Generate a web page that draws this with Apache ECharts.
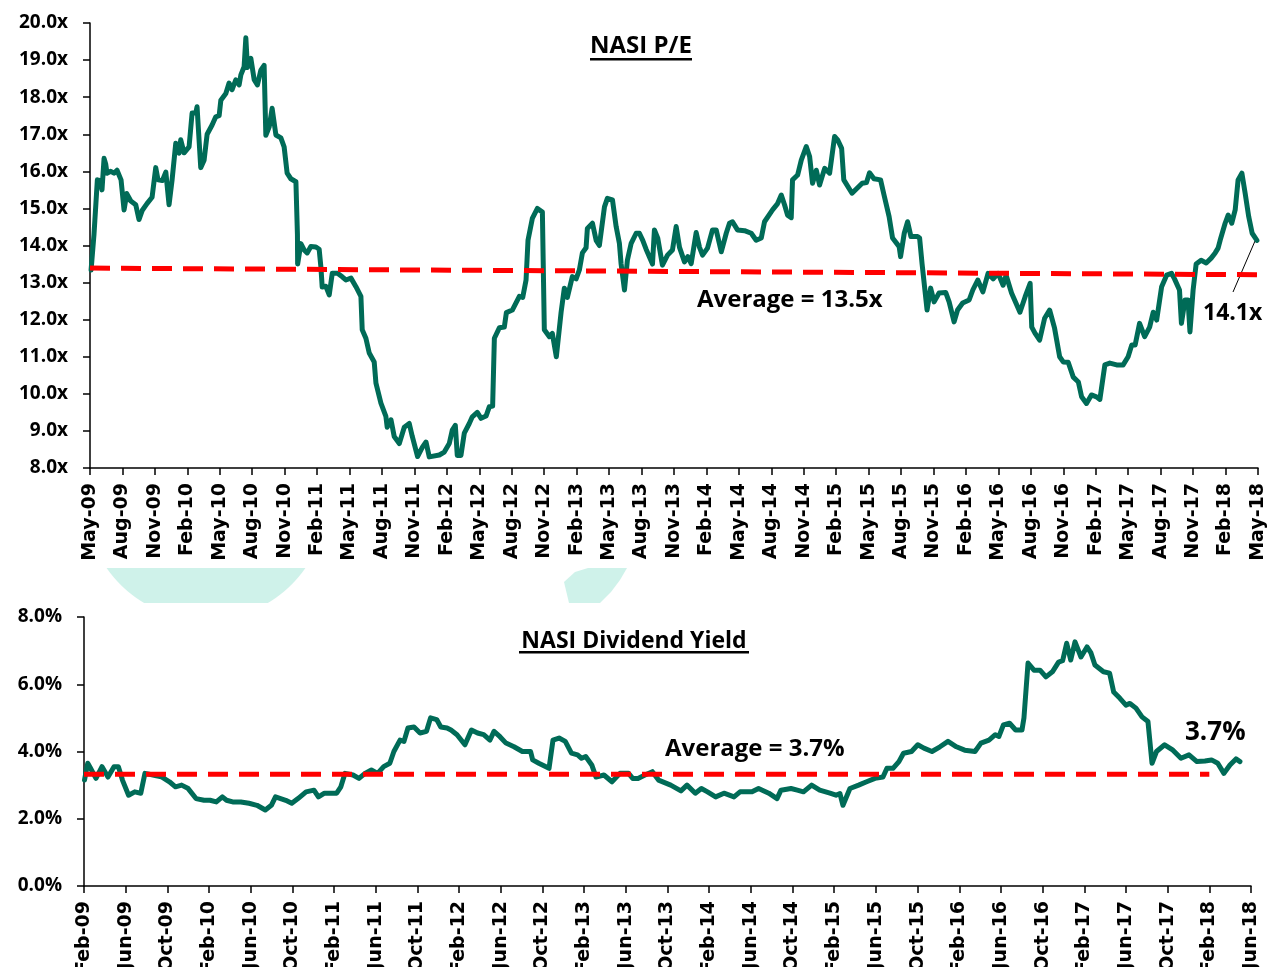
<!DOCTYPE html>
<html>
<head>
<meta charset="utf-8">
<script src="https://cdn.jsdelivr.net/npm/echarts@6/dist/echarts.min.js"></script>
<style>
  html, body { margin: 0; padding: 0; background: #fff; }
  #main { width: 1269px; height: 967px; }
</style>
</head>
<body>
<div id="main"></div>
<script>
// tick labels
var peTicks = ['May-09','Aug-09','Nov-09','Feb-10','May-10','Aug-10','Nov-10','Feb-11','May-11','Aug-11','Nov-11','Feb-12','May-12','Aug-12','Nov-12','Feb-13','May-13','Aug-13','Nov-13','Feb-14','May-14','Aug-14','Nov-14','Feb-15','May-15','Aug-15','Nov-15','Feb-16','May-16','Aug-16','Nov-16','Feb-17','May-17','Aug-17','Nov-17','Feb-18','May-18'];
var dyTicks = ['Feb-09','Jun-09','Oct-09','Feb-10','Jun-10','Oct-10','Feb-11','Jun-11','Oct-11','Feb-12','Jun-12','Oct-12','Feb-13','Jun-13','Oct-13','Feb-14','Jun-14','Oct-14','Feb-15','Jun-15','Oct-15','Feb-16','Jun-16','Oct-16','Feb-17','Jun-17','Oct-17','Feb-18','Jun-18'];

// NASI P/E : months since May-09, value (x)
var peMonths = [0.1,0.37,0.68,0.99,1.11,1.3,1.45,1.57,1.92,2.22,2.5,2.87,3.15,3.4,3.77,4.23,4.53,4.84,5.27,5.74,6.08,6.29,6.69,7.01,7.31,7.59,7.93,8.24,8.39,8.7,9.16,9.44,9.78,9.9,10.24,10.55,10.83,11.29,11.63,11.94,12.1,12.56,12.86,13.14,13.48,13.79,13.95,14.25,14.41,14.56,14.87,15.18,15.48,15.8,16.1,16.26,16.57,16.84,17.19,17.65,17.95,18.23,18.57,19.04,19.18,19.2,19.5,19.8,20.08,20.42,20.89,21.19,21.35,21.47,21.81,22.12,22.4,22.89,23.35,23.66,24.13,24.59,25.05,25.17,25.51,25.82,26.28,26.44,26.9,27.36,27.48,27.83,28.13,28.6,29.06,29.52,29.8,30.29,30.45,30.75,31.07,31.37,32.3,32.76,33.22,33.5,33.78,33.96,34.3,34.61,35.07,35.35,35.81,36.16,36.62,36.92,37.23,37.39,37.85,38.31,38.5,39.05,39.7,40.01,40.32,40.5,40.9,41.37,41.83,42.01,42.48,42.75,43.12,43.56,43.86,44.14,44.6,44.95,45.25,45.53,45.87,45.99,46.46,46.8,47.1,47.57,47.84,48.31,48.65,48.95,49.11,49.42,49.69,50.04,50.5,50.8,51.11,51.42,52.01,52.19,52.5,52.93,53.4,53.86,54.2,54.51,54.97,55.28,55.59,56.05,56.36,56.64,57.1,57.56,57.9,58.37,58.83,59.13,59.41,59.87,60.52,61.14,61.6,62.07,62.37,63.11,63.58,63.92,64.22,64.5,64.84,64.96,65.43,65.77,66.23,66.54,66.81,67.16,67.46,67.93,68.39,68.85,69.13,69.5,69.7,70.46,71.4,71.8,72.08,72.49,73.1,73.42,73.89,74.21,74.82,74.95,75.29,75.6,75.91,76.52,76.71,76.94,77.4,77.73,78.05,78.51,79.13,79.44,79.9,80.22,80.69,81.29,81.63,82.09,82.56,83.04,83.51,83.97,84.43,84.71,85.21,85.99,86.47,86.93,87.08,87.39,87.81,88.27,88.73,89.19,89.66,89.99,90.45,90.92,91.39,91.69,92.14,92.6,93.06,93.38,93.84,94.3,94.93,95.53,95.99,96.33,96.64,97.05,97.52,97.98,98.31,98.63,99.09,99.55,100.0,100.28,100.74,100.92,101.25,101.53,101.71,102.0,102.28,102.74,103.21,103.67,104.04,104.31,104.5,104.96,105.24,105.57,105.89,106.16,106.51,106.81,107.14,107.46,107.9];
var peValues = [13.34,14.3,15.77,15.75,15.5,16.35,16.2,15.95,16.0,15.95,16.03,15.77,14.96,15.4,15.2,15.1,14.7,14.95,15.13,15.3,16.1,15.77,15.75,15.98,15.1,15.77,16.76,16.49,16.85,16.5,16.66,17.57,17.57,17.74,16.1,16.3,17.0,17.25,17.47,17.5,17.92,18.1,18.38,18.2,18.47,18.33,18.6,18.82,19.6,18.8,19.05,18.47,18.33,18.73,18.86,16.97,17.2,17.7,16.98,16.9,16.66,15.95,15.8,15.72,14.3,13.5,14.05,13.88,13.8,13.97,13.96,13.9,13.42,12.88,12.9,12.67,13.25,13.25,13.15,13.07,13.12,12.89,12.63,11.73,11.5,11.1,10.86,10.29,9.75,9.39,9.1,9.3,8.85,8.66,9.1,9.2,8.85,8.31,8.3,8.57,8.7,8.3,8.35,8.43,8.66,9.02,9.15,8.34,8.34,8.94,9.2,9.38,9.5,9.34,9.4,9.65,9.67,11.5,11.78,11.8,12.19,12.26,12.63,12.6,13.07,14.14,14.73,15.0,14.9,11.73,11.54,11.63,11.0,12.2,12.85,12.6,13.16,13.1,13.34,13.8,13.94,14.46,14.6,14.14,14.0,15.04,15.27,15.23,14.51,14.06,13.5,12.8,13.6,14.06,14.33,14.33,14.14,13.9,13.5,14.42,14.2,13.47,13.74,13.88,14.51,13.95,13.56,13.7,13.51,14.35,13.95,13.74,13.93,14.42,14.42,13.83,14.33,14.6,14.64,14.42,14.4,14.33,14.14,14.2,14.64,14.96,15.13,15.36,15.1,14.82,14.75,15.77,15.9,16.3,16.67,16.4,15.68,16.03,15.63,16.08,15.95,16.94,16.85,16.62,15.77,15.41,15.68,15.7,15.96,15.8,15.77,15.36,14.78,14.2,13.97,13.7,14.33,14.64,14.24,14.24,14.2,13.5,12.26,12.85,12.48,12.72,12.73,12.48,11.94,12.26,12.45,12.53,12.8,13.07,12.75,13.25,13.1,13.25,12.93,13.2,12.72,12.2,12.62,12.98,11.8,11.63,11.45,12.04,12.26,11.77,11.0,10.86,10.85,10.45,10.32,9.92,9.74,9.97,9.92,9.85,10.78,10.83,10.78,10.78,11.0,11.32,11.32,11.9,11.54,11.8,12.2,11.99,12.89,13.2,13.25,13.1,12.8,11.9,12.53,12.53,11.67,12.8,13.5,13.6,13.53,13.66,13.8,13.93,14.14,14.6,14.82,14.6,14.96,15.77,15.95,15.41,14.78,14.33,14.14];
var peAvgMonths = [0, 109];
var peAvgValues = [13.39, 13.21];

// NASI dividend yield : months since Feb-09, value (%)
var dyMonths = [0.05,0.36,0.63,1.15,1.73,2.3,2.88,3.3,3.69,4.28,4.87,5.45,5.85,6.62,7.41,8.2,8.78,9.37,9.96,10.75,11.52,12.09,12.7,13.28,13.68,14.27,15.05,15.83,16.6,17.4,17.98,18.38,19.36,19.94,20.54,21.31,22.07,22.5,23.08,23.67,24.25,24.65,25.05,25.82,26.39,26.97,27.58,28.18,28.76,29.35,29.74,30.33,30.71,31.09,31.67,32.25,32.87,33.26,33.85,34.24,34.84,35.22,35.8,36.56,37.18,37.77,38.36,38.96,39.35,39.92,40.5,41.27,42.07,42.86,43.06,43.65,44.63,45.01,45.59,46.19,46.78,47.37,47.75,48.15,48.73,49.14,49.9,50.67,51.44,52.26,52.66,53.17,53.84,54.55,55.14,56.31,57.29,57.87,58.67,59.25,59.84,60.62,61.42,62.38,62.96,64.11,64.74,65.72,66.51,66.89,67.85,68.46,69.05,69.83,70.61,71.59,72.17,72.55,72.84,73.51,74.34,75.11,75.91,76.68,77.06,77.64,78.21,78.65,79.42,80.02,80.61,81.38,82.15,82.92,83.73,84.52,85.51,86.08,86.85,87.46,87.81,88.24,88.83,89.41,90.02,90.21,90.6,91.17,91.75,92.32,92.94,93.53,93.92,94.31,94.7,95.11,95.68,96.26,96.64,97.02,97.84,98.43,98.82,99.42,100.0,100.38,100.96,101.54,102.11,102.5,102.93,103.71,104.51,105.28,106.05,106.81,107.58,108.21,108.81,109.4,109.98,110.56,110.94];
var dyValues = [3.15,3.65,3.5,3.2,3.55,3.24,3.55,3.55,3.15,2.7,2.8,2.76,3.35,3.3,3.25,3.1,2.95,3.0,2.91,2.6,2.55,2.55,2.5,2.65,2.55,2.5,2.5,2.46,2.4,2.26,2.4,2.65,2.55,2.46,2.6,2.8,2.85,2.65,2.76,2.76,2.76,2.95,3.35,3.3,3.2,3.35,3.45,3.35,3.55,3.65,4.0,4.34,4.3,4.7,4.73,4.55,4.6,5.0,4.95,4.73,4.7,4.64,4.5,4.2,4.64,4.55,4.5,4.34,4.6,4.44,4.25,4.14,4.0,4.0,3.75,3.65,3.5,4.34,4.4,4.3,3.95,3.9,3.8,3.85,3.6,3.24,3.3,3.1,3.35,3.35,3.2,3.2,3.3,3.4,3.15,3.0,2.83,3.0,2.76,2.9,2.8,2.65,2.76,2.65,2.8,2.8,2.9,2.76,2.6,2.85,2.9,2.85,2.8,3.0,2.85,2.76,2.7,2.75,2.4,2.9,3.0,3.1,3.2,3.24,3.5,3.5,3.7,3.95,4.0,4.2,4.1,4.0,4.14,4.3,4.14,4.04,4.0,4.25,4.34,4.5,4.45,4.79,4.84,4.64,4.64,5.0,6.63,6.42,6.42,6.22,6.37,6.66,6.7,7.22,6.72,7.26,6.81,7.11,6.93,6.57,6.37,6.33,5.77,5.58,5.38,5.43,5.29,5.03,4.89,3.65,4.0,4.2,4.04,3.8,3.9,3.7,3.72,3.75,3.65,3.35,3.6,3.78,3.7];
var dyAvgMonths = [0, 108];
var dyAvgValues = [3.32, 3.32];

var lineGreen = '#006B57';
var avgRed = '#FF0000';

function zip(xs, ys) {
  return xs.map(function (x, i) { return [x, ys[i]]; });
}

// faint logo band between the two charts
function logoBand(cx, cy, r, y0, y1) {
  var pts = [];
  for (var y = y0; y <= y1; y++) pts.push([cx - Math.sqrt(r * r - (y - cy) * (y - cy)), y]);
  for (var y2 = y1; y2 >= y0; y2--) pts.push([cx + Math.sqrt(r * r - (y2 - cy) * (y2 - cy)), y2]);
  return pts;
}

var xLabel = {
  rotate: 90,
  margin: 15,
  color: '#000',
  fontFamily: 'DejaVu Sans',
  fontWeight: 'bold',
  fontSize: 19
};
var yLabel = {
  margin: 22,
  color: '#000',
  fontFamily: 'Open Sans',
  fontWeight: 'bold',
  fontSize: 19
};
var axisBlack = { show: true, lineStyle: { color: '#000', width: 1.5 } };
var tickBlack = { show: true, length: 7, lineStyle: { color: '#000', width: 1.5 } };

var option = {
  backgroundColor: '#fff',
  animation: false,
  grid: [
    { left: 90, right: 11, top: 23, bottom: 499, containLabel: false, outerBoundsMode: 'none' },
    { left: 84, right: 18, top: 617, bottom: 81, containLabel: false, outerBoundsMode: 'none' }
  ],
  xAxis: [
    {
      gridIndex: 0, type: 'value', min: 0, max: 108, interval: 3,
      axisLine: axisBlack, axisTick: tickBlack, splitLine: { show: false },
      axisLabel: Object.assign({}, xLabel, {
        formatter: function (v) { return peTicks[Math.round(v / 3)]; }
      })
    },
    {
      gridIndex: 1, type: 'value', min: 0, max: 112, interval: 4,
      axisLine: axisBlack, axisTick: tickBlack, splitLine: { show: false },
      axisLabel: Object.assign({}, xLabel, {
        formatter: function (v) { return dyTicks[Math.round(v / 4)]; }
      })
    }
  ],
  yAxis: [
    {
      gridIndex: 0, type: 'value', min: 8, max: 20, interval: 1,
      axisLine: axisBlack, axisTick: tickBlack, splitLine: { show: false },
      axisLabel: Object.assign({}, yLabel, {
        formatter: function (v) { return v.toFixed(1) + 'x'; }
      })
    },
    {
      gridIndex: 1, type: 'value', min: 0, max: 8, interval: 2,
      axisLine: axisBlack, axisTick: tickBlack, splitLine: { show: false },
      axisLabel: Object.assign({}, yLabel, {
        formatter: function (v) { return v.toFixed(1) + '%'; }
      })
    }
  ],
  series: [
    {
      name: 'NASI P/E', type: 'line', xAxisIndex: 0, yAxisIndex: 0,
      data: zip(peMonths, peValues), showSymbol: false,
      lineStyle: { color: lineGreen, width: 5, join: 'round', cap: 'round' }
    },
    {
      name: 'P/E average', type: 'line', xAxisIndex: 0, yAxisIndex: 0, clip: false,
      data: zip(peAvgMonths, peAvgValues), showSymbol: false,
      lineStyle: { color: avgRed, width: 5, type: [20, 11] }
    },
    {
      name: 'NASI Dividend Yield', type: 'line', xAxisIndex: 1, yAxisIndex: 1,
      data: zip(dyMonths, dyValues), showSymbol: false,
      lineStyle: { color: lineGreen, width: 5, join: 'round', cap: 'round' }
    },
    {
      name: 'DY average', type: 'line', xAxisIndex: 1, yAxisIndex: 1,
      data: zip(dyAvgMonths, dyAvgValues), showSymbol: false,
      lineStyle: { color: avgRed, width: 5, type: [20, 11] }
    }
  ],
  graphic: [
    { type: 'polygon', z: -10, shape: { points: logoBand(206, 499, 121, 568, 603) }, style: { fill: '#CFF2EA' } },
    { type: 'polygon', z: -10, shape: { points: [[588,568],[627,568],[620,580],[611,592],[600,603],[569,603],[564,582],[575,572]] }, style: { fill: '#CFF2EA' } },

    { type: 'text', x: 641, y: 46, style: { text: 'NASI P/E', fill: '#000', font: 'bold 24px "Open Sans"', textAlign: 'center', textVerticalAlign: 'middle' } },
    { type: 'rect', shape: { x: 590, y: 58, width: 102, height: 2.5 }, style: { fill: '#000' } },
    { type: 'text', x: 697, y: 300, style: { text: 'Average = 13.5x', fill: '#000', font: 'bold 24px "Open Sans"', textAlign: 'left', textVerticalAlign: 'middle' } },
    { type: 'text', x: 1203, y: 313, style: { text: '14.1x', fill: '#000', font: 'bold 23px "Open Sans"', textAlign: 'left', textVerticalAlign: 'middle' } },
    { type: 'line', shape: { x1: 1255, y1: 241, x2: 1233, y2: 292 }, style: { stroke: '#000', lineWidth: 1 } },

    { type: 'text', x: 634, y: 641, style: { text: 'NASI Dividend Yield', fill: '#000', font: 'bold 23px "Open Sans"', textAlign: 'center', textVerticalAlign: 'middle' } },
    { type: 'rect', shape: { x: 519, y: 651, width: 230, height: 2.5 }, style: { fill: '#000' } },
    { type: 'text', x: 665, y: 749, style: { text: 'Average = 3.7%', fill: '#000', font: 'bold 24px "Open Sans"', textAlign: 'left', textVerticalAlign: 'middle' } },
    { type: 'text', x: 1185, y: 733, style: { text: '3.7%', fill: '#000', font: 'bold 26px "Open Sans"', textAlign: 'left', textVerticalAlign: 'middle' } }
  ]
};

var chart = echarts.init(document.getElementById('main'));
chart.setOption(option);
</script>
</body>
</html>
